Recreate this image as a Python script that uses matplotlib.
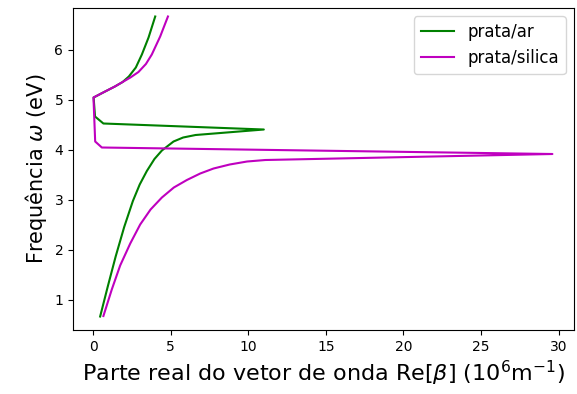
import matplotlib
matplotlib.use("Agg")
import matplotlib.pyplot as plt

# prata/ar  (Re[beta] in 1e6 m^-1, omega in eV)
ar_beta = [0.45, 0.95, 1.45, 2.0, 2.56, 3.0, 3.46, 3.95, 4.43, 5.18, 5.8, 6.6, 11.0,
           0.66, 0.12, 0.03, 0.77, 1.4, 1.9, 2.3, 2.75, 3.14, 3.57, 4.0]
ar_omega = [0.66, 1.27, 1.86, 2.45, 2.97, 3.30, 3.57, 3.81, 3.98, 4.16, 4.24, 4.29, 4.40,
            4.52, 4.66, 5.04, 5.16, 5.26, 5.35, 5.46, 5.64, 5.90, 6.24, 6.66]

# prata/silica
si_beta = [0.66, 1.2, 1.74, 2.39, 3.03, 3.7, 4.43, 5.2, 6.04, 6.9, 7.76, 8.8, 9.92, 11.1, 29.6,
           0.56, 0.13, 0.02, 0.77, 1.4, 1.9, 2.4, 2.92, 3.4, 3.78, 4.32, 4.82]
si_omega = [0.67, 1.2, 1.68, 2.12, 2.5, 2.8, 3.04, 3.24, 3.39, 3.52, 3.62, 3.70, 3.76, 3.79, 3.91,
            4.04, 4.16, 5.04, 5.16, 5.26, 5.35, 5.44, 5.55, 5.71, 5.9, 6.26, 6.66]

fig = plt.figure(figsize=(5.77, 3.94), dpi=100)
ax = fig.add_axes([0.1265, 0.1624, 0.8685, 0.8173])
ax.plot(ar_beta, ar_omega, color="g", label="prata/ar")
ax.plot(si_beta, si_omega, color="m", label="prata/silica")
ax.set_xlim(-1.3, 31.0)
ax.set_ylim(0.39, 6.83)
ax.set_xlabel(r"Parte real do vetor de onda Re[$\beta$] ($10^6$m$^{-1}$)", fontsize=16)
ax.set_ylabel(r"Frequência $\omega$ (eV)", fontsize=15)
ax.legend(loc="upper right", fontsize=12)
fig.savefig("out.png", dpi=100)
